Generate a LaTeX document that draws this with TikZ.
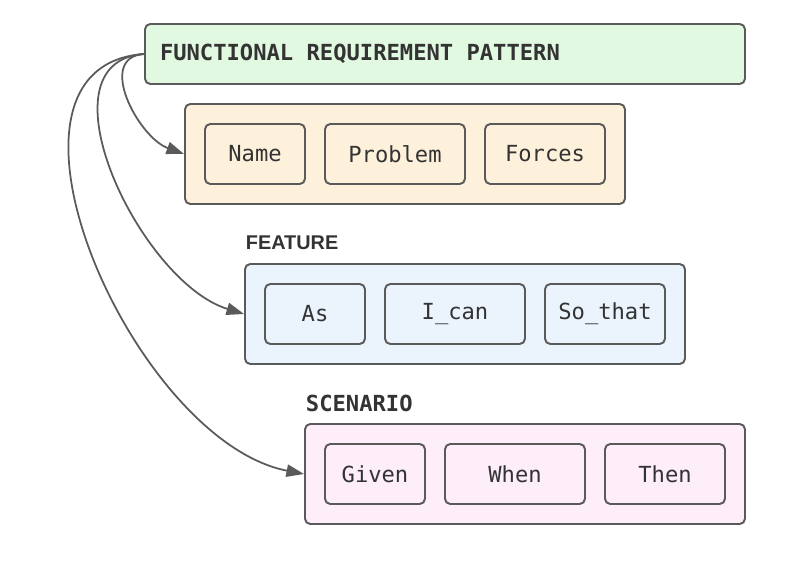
\documentclass[tikz,border=0pt]{standalone}
\usepackage{fontspec}
\setmonofont{DejaVu Sans Mono}
\setsansfont{Liberation Sans}
\usetikzlibrary{arrows.meta}

\definecolor{edgegray}{HTML}{5A5A5A}
\definecolor{inkgray}{HTML}{333333}
\definecolor{titlefill}{HTML}{E1F8E1}
\definecolor{patternfill}{HTML}{FDF1DB}
\definecolor{featurefill}{HTML}{EBF3FD}
\definecolor{scenariofill}{HTML}{FDEEFA}

% one monospace character wide
\newcommand{\monogap}{\hspace*{0.602em}}

\begin{document}
\begin{tikzpicture}[
    >={Triangle[length=10pt,width=7pt]},
    line width=1.1pt,
    group/.style={
        draw=edgegray,
        rounded corners=3pt,
        minimum width=88mm,
        minimum height=20mm
    },
    item/.style={
        draw=edgegray,
        rounded corners=3pt,
        minimum height=12mm,
        font=\ttfamily\fontsize{12.6}{14}\selectfont,
        text=inkgray
    },
    heading/.style={
        anchor=west,
        inner sep=0pt,
        text=inkgray
    }
]
\useasboundingbox (0,0) rectangle (15.7,-11.28);

\node[draw=edgegray, rounded corners=3pt, fill=titlefill,
      minimum width=120mm, minimum height=12mm,
      text width=114mm, align=left, inner xsep=2.6mm,
      font=\ttfamily\bfseries\fontsize{12.6}{14}\selectfont, text=inkgray]
      (title) at (8.9,-1.08) {FUNCTIONAL\monogap REQUIREMENT\monogap PATTERN};

% pattern parts
\node[group, fill=patternfill] (pattern) at (8.1,-3.08) {};
\node[item, fill=patternfill, minimum width=20mm] (name) at (5.1,-3.08) {Name};
\node[item, fill=patternfill, minimum width=28mm] (problem) at (7.9,-3.08) {Problem};
\node[item, fill=patternfill, minimum width=24mm] (forces) at (10.9,-3.08) {Forces};

% feature
\node[heading, font=\sffamily\bfseries\fontsize{11.3}{13}\selectfont] (featlabel) at (4.9,-4.86) {FEATURE};
\node[group, fill=featurefill] (feature) at (9.3,-6.28) {};
\node[item, fill=featurefill, minimum width=20mm] (as) at (6.3,-6.28) {As};
\node[item, fill=featurefill, minimum width=28mm] (ican) at (9.1,-6.28) {I\_can};
\node[item, fill=featurefill, minimum width=24mm] (sothat) at (12.1,-6.28) {So\_that};

% scenario
\node[heading, font=\ttfamily\bfseries\fontsize{12.6}{14}\selectfont] (scenlabel) at (6.1,-8.06) {SCENARIO};
\node[group, fill=scenariofill] (scenario) at (10.5,-9.48) {};
\node[item, fill=scenariofill, minimum width=20mm] (given) at (7.5,-9.48) {Given};
\node[item, fill=scenariofill, minimum width=28mm] (when) at (10.3,-9.48) {When};
\node[item, fill=scenariofill, minimum width=24mm] (then) at (13.3,-9.48) {Then};

\path[->, every edge/.style={draw=edgegray, line width=1pt}]
    (title.west) edge[out=184, in=160, looseness=1.15] (pattern.west)
    (title.west) edge[out=184, in=163, looseness=1.0] (feature.west)
    (title.west) edge[out=184, in=169, looseness=1.0] (scenario.west);

\end{tikzpicture}
\end{document}
